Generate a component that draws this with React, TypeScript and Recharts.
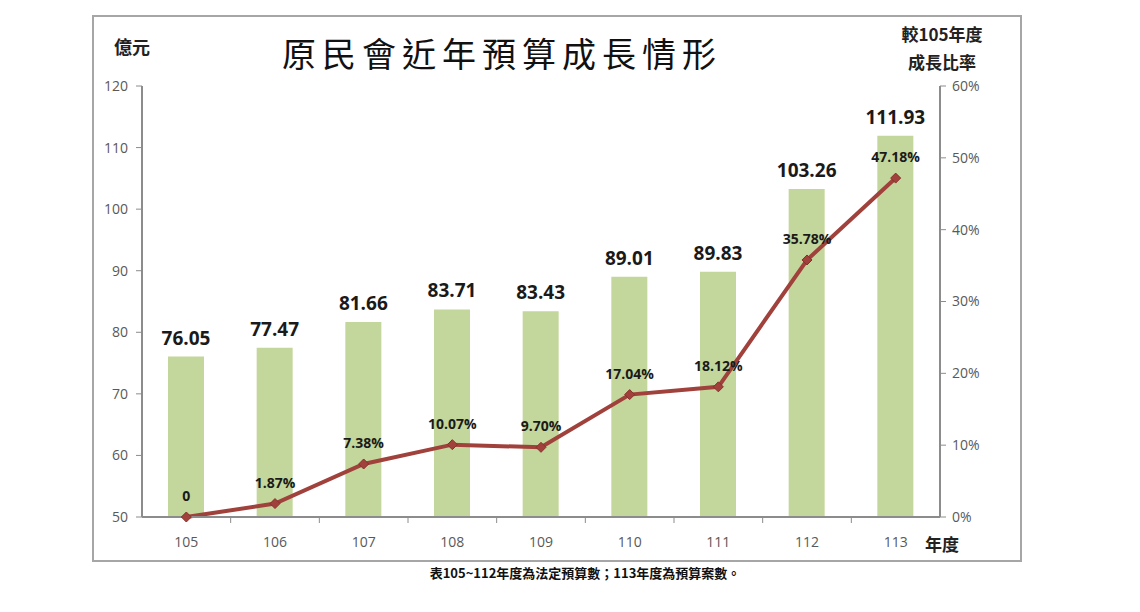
import React from 'react';
import {
  ComposedChart, Bar, Line, XAxis, YAxis, LabelList,
} from 'recharts';

const years = ['105', '106', '107', '108', '109', '110', '111', '112', '113'];
const budget = [76.05, 77.47, 81.66, 83.71, 83.43, 89.01, 89.83, 103.26, 111.93];
const growth = [0, 1.87, 7.38, 10.07, 9.70, 17.04, 18.12, 35.78, 47.18];
const leftTicks = [50, 60, 70, 80, 90, 100, 110, 120];
const rightTicks = [0, 10, 20, 30, 40, 50, 60];

const data = years.map((y, i) => ({ year: y, budget: budget[i], growth: growth[i] }));

const axisTick = { fill: '#595959', fontSize: 14, fontFamily: 'Open Sans, sans-serif' };
const cjk = '"Noto Sans CJK TC", sans-serif';

const Diamond = (props: any) => {
  const { cx, cy } = props;
  if (cx == null || cy == null) return null;
  const r = 5;
  return (
    <path
      d={`M${cx},${cy - r} L${cx + r},${cy} L${cx},${cy + r} L${cx - r},${cy} Z`}
      fill="#a0413c"
      stroke="#8a2f2b"
      strokeWidth={1}
    />
  );
};

export default function App() {
  return (
    <div style={{ position: 'relative', width: 1140, height: 612, background: '#fff' }}>
      <style>{'body{margin:0}'}</style>
      <div
        style={{
          position: 'absolute', left: 92, top: 15, width: 926, height: 543,
          border: '2px solid #a6a6a6',
        }}
      />
      <ComposedChart
        width={1140}
        height={612}
        data={data}
        margin={{ top: 86, right: 140, bottom: 65, left: 92 }}
        barSize={36}
        style={{ position: 'absolute', left: 0, top: 0 }}
      >
        <XAxis
          dataKey="year"
          tick={{ ...axisTick, dy: 12 }}
          tickLine={false}
          axisLine={{ stroke: '#8c8c8c', strokeWidth: 2 }}
          height={30}
        />
        <YAxis
          yAxisId="left"
          domain={[50, 120]}
          ticks={leftTicks}
          width={50}
          tick={{ ...axisTick, dx: -6 }}
          axisLine={{ stroke: '#8c8c8c', strokeWidth: 2 }}
          tickLine={{ stroke: '#8c8c8c' }}
          tickSize={6}
          allowDataOverflow
        />
        <YAxis
          yAxisId="right"
          orientation="right"
          domain={[0, 60]}
          ticks={rightTicks}
          tickFormatter={(v: number) => `${v}%`}
          width={60}
          tick={{ ...axisTick, dx: 4 }}
          axisLine={{ stroke: '#8c8c8c', strokeWidth: 2 }}
          tickLine={{ stroke: '#8c8c8c' }}
          tickSize={6}
        />
        <Bar yAxisId="left" dataKey="budget" fill="#c3d69b" isAnimationActive={false}>
          <LabelList
            dataKey="budget"
            position="top"
            offset={12}
            formatter={(v: number) => v.toFixed(2)}
            style={{ fill: '#1a1a1a', fontSize: 19, fontWeight: 700, fontFamily: 'Open Sans, sans-serif' }}
          />
        </Bar>
        <Line
          yAxisId="right"
          dataKey="growth"
          stroke="#a0413c"
          strokeWidth={4}
          dot={<Diamond />}
          activeDot={false}
          isAnimationActive={false}
        >
          <LabelList
            dataKey="growth"
            position="top"
            offset={16}
            formatter={(v: number) => (v === 0 ? '0' : `${v.toFixed(2)}%`)}
            style={{ fill: '#1a1a1a', fontSize: 14, fontWeight: 700, fontFamily: 'Open Sans, sans-serif' }}
          />
        </Line>
      </ComposedChart>
      {/* x tick marks between categories */}
      <svg width={1140} height={612} style={{ position: 'absolute', left: 0, top: 0, pointerEvents: 'none' }}>
        {years.map((_, i) => {
          const x = 142 + (i + 1) * (798 / 9);
          return i < years.length - 1 ? (
            <line key={i} x1={x} x2={x} y1={517} y2={523} stroke="#8c8c8c" strokeWidth={1} />
          ) : null;
        })}
      </svg>
      <div style={{ position: 'absolute', left: 114, top: 33, fontFamily: cjk, fontWeight: 700, fontSize: 18, color: '#222' }}>
        億元
      </div>
      <div style={{ position: 'absolute', left: 0, width: 1004, top: 28, textAlign: 'center', fontFamily: cjk, fontSize: 34, color: '#111', letterSpacing: 6 }}>
        原民會近年預算成長情形
      </div>
      <div style={{ position: 'absolute', left: 882, width: 120, top: 20, textAlign: 'center', fontFamily: cjk, fontWeight: 700, fontSize: 17, lineHeight: '28px', color: '#222' }}>
        較105年度<br />成長比率
      </div>
      <div style={{ position: 'absolute', left: 925, top: 531, fontFamily: cjk, fontWeight: 700, fontSize: 17, color: '#222' }}>
        年度
      </div>
      <div style={{ position: 'absolute', left: 0, width: 1170, top: 563, textAlign: 'center', fontFamily: cjk, fontWeight: 700, fontSize: 13, color: '#111' }}>
        表105~112年度為法定預算數；113年度為預算案數。
      </div>
    </div>
  );
}
